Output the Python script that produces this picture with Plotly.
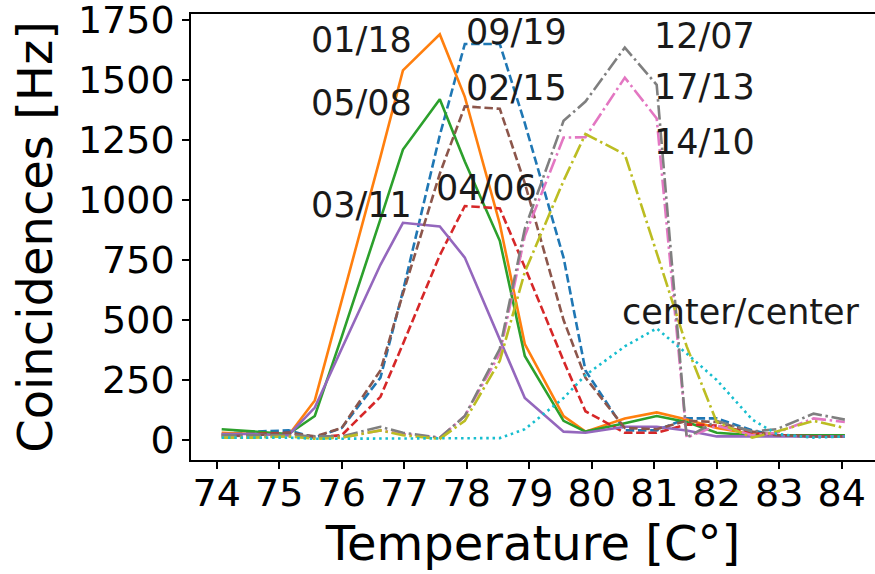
import plotly.graph_objects as go

# ---- data ----
temperature = [74.08, 74.6, 75.15, 75.57, 76.0, 76.62, 76.98, 77.57, 77.97, 78.53, 78.93,
               79.55, 79.9, 80.53, 81.04, 81.52, 82.0, 82.57, 82.96, 83.55, 84.05]

s_09_19 = [25, 35, 40, 10, 50, 260, 620, 1270, 1650, 1650, 1320, 760, 290, 40, 40, 90, 90, 40, 20, 15, 15]
s_01_18 = [30, 25, 20, 165, 580, 1180, 1540, 1690, 1430, 900, 400, 100, 35, 90, 115, 85, 50, 25, 20, 20, 20]
s_05_08 = [45, 35, 25, 100, 430, 920, 1210, 1420, 1160, 830, 350, 80, 35, 70, 100, 75, 30, 20, 20, 20, 20]
s_04_06 = [20, 25, 30, 10, 20, 180, 400, 770, 975, 965, 720, 330, 120, 30, 30, 65, 60, 30, 20, 15, 15]
s_03_11 = [25, 25, 20, 135, 380, 730, 905, 890, 760, 420, 175, 35, 30, 55, 55, 40, 15, 15, 15, 15, 15]
s_02_15 = [15, 20, 30, 15, 50, 290, 610, 1110, 1390, 1380, 1070, 500, 260, 50, 45, 80, 75, 35, 20, 15, 15]
s_17_13 = [15, 15, 15, 10, 10, 40, 25, 10, 100, 360, 850, 1260, 1262, 1510, 1340, 10, 60, 20, 30, 90, 75]
s_12_07 = [20, 20, 20, 15, 15, 55, 30, 10, 100, 380, 880, 1330, 1410, 1635, 1480, 10, 80, 35, 45, 110, 85]
s_14_10 = [10, 10, 15, 5, 10, 40, 20, 5, 80, 330, 700, 1080, 1275, 1190, 780, 390, 75, 10, 35, 80, 50]
s_center = [10, 10, 10, 5, 5, 5, 5, 5, 5, 8, 45, 175, 270, 390, 465, 360, 250, 85, 25, 10, 15]

series_names = ["09/19", "01/18", "05/08", "04/06", "03/11", "02/15", "17/13", "12/07", "14/10", "center/center"]
series_values = [s_09_19, s_01_18, s_05_08, s_04_06, s_03_11, s_02_15, s_17_13, s_12_07, s_14_10, s_center]

# label text positions (data coords: left x, vertical centre y)
label_x = [77.95, 75.47, 75.47, 77.47, 75.47, 77.95, 80.97, 80.97, 80.97, 80.46]
label_y = [1701, 1665, 1406, 1049, 979, 1465, 1469, 1684, 1242, 532]

x_ticks = [74, 75, 76, 77, 78, 79, 80, 81, 82, 83, 84]
y_ticks = [0, 250, 500, 750, 1000, 1250, 1500, 1750]

# ---- styles ----
colors = ["#1f77b4", "#ff7f0e", "#2ca02c", "#d62728", "#9467bd",
          "#8c564b", "#e377c2", "#7f7f7f", "#bcbd22", "#17becf"]
dash_dashed = "8.5px,3.7px"
dash_dashdot = "14.5px,3.7px,2.5px,3.7px"
dash_dotted = "2.5px,3.8px"
dashes = [dash_dashed, "solid", "solid", dash_dashed, "solid",
          dash_dashed, dash_dashdot, dash_dashdot, dash_dashdot, dash_dotted]

FONT = "DejaVu Sans"
TICK_SIZE = 38

fig = go.Figure()
for name, vals, col, dsh in zip(series_names, series_values, colors, dashes):
    fig.add_trace(go.Scatter(x=temperature, y=vals, mode="lines", name=name,
                             line=dict(color=col, width=2.6, dash=dsh)))

for name, lx, ly in zip(series_names, label_x, label_y):
    fig.add_annotation(x=lx, y=ly, text=name, showarrow=False, xanchor="left",
                       yanchor="middle", font=dict(family=FONT, size=35, color="#1a1a1a"))

fig.update_layout(
    width=875, height=574,
    margin=dict(l=191, r=0, t=14, b=114),
    paper_bgcolor="white", plot_bgcolor="white",
    showlegend=False,
    font=dict(family=FONT, color="black", size=TICK_SIZE),
)
common = dict(showgrid=False, zeroline=False, showline=True, linecolor="black", linewidth=1.5,
              ticks="outside", ticklen=7, tickwidth=1.5, tickcolor="black",
              tickfont=dict(family=FONT, size=TICK_SIZE, color="black"),
              ticklabeloverflow="allow", automargin=False)
fig.update_xaxes(
    range=[73.589, 84.533], tickmode="array", tickvals=x_ticks, ticktext=[str(v) for v in x_ticks],
    mirror=True, ticklabelstandoff=-8,
    title=dict(text="Temperature [C°]", font=dict(family=FONT, size=48, color="black"), standoff=4),
    **common,
)
fig.update_yaxes(
    range=[-83.3, 1775], tickmode="array", tickvals=y_ticks, ticktext=[str(v) for v in y_ticks],
    mirror=False,
    title=dict(text="Coincidences [Hz]", font=dict(family=FONT, size=48, color="black"), standoff=10),
    **common,
)

fig.write_html("out.html")
